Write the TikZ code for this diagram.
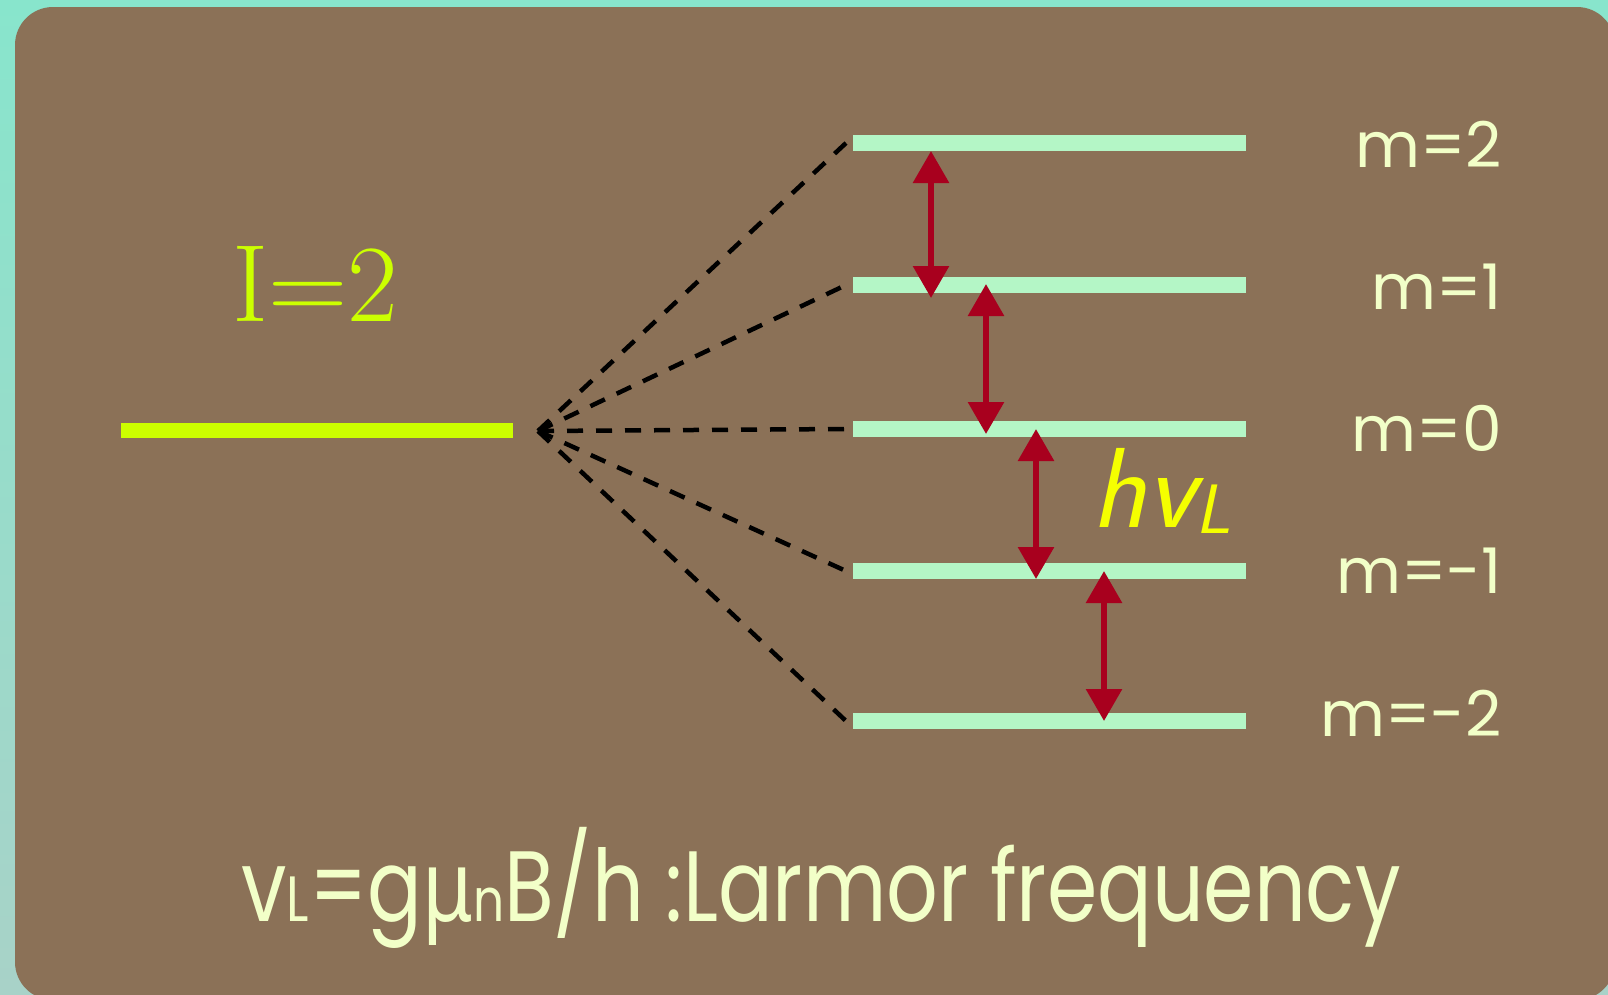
\documentclass[tikz,border=0pt]{standalone}
\usepackage{fontspec}
\usetikzlibrary{arrows.meta}
\newfontfamily\popfont{Poppins}
\newfontfamily\grkfont{Noto Sans}
\definecolor{teal1}{RGB}{136,229,204}
\definecolor{teal2}{RGB}{168,210,200}
\definecolor{cardbrown}{RGB}{139,113,87}
\definecolor{igreen}{RGB}{204,255,0}
\definecolor{levelgreen}{RGB}{180,246,198}
\definecolor{arrowred}{RGB}{168,0,30}
\definecolor{labelcream}{RGB}{242,255,200}
\definecolor{hvyellow}{RGB}{245,255,0}
\begin{document}
\begin{tikzpicture}[x=1pt,y=-1pt,
  level/.style={draw=levelgreen,line width=16pt},
  ilevel/.style={draw=igreen,line width=15pt},
  split/.style={draw=black,line width=4.5pt,dash pattern=on 16pt off 13pt},
  gap/.style={draw=arrowred,line width=6pt,{Triangle[length=32pt,width=35pt]}-{Triangle[length=32pt,width=35pt]}},
  mlabel/.style={font=\popfont\fontsize{63}{70}\selectfont,text=labelcream,anchor=base east,inner sep=0pt},
]
\useasboundingbox (0,0) rectangle (1608,994);
\shade[top color=teal1,bottom color=teal2] (0,0) rectangle (1608,994);
\fill[cardbrown,rounded corners=38pt] (15,7) rectangle (1615,1000);
% I level
\coordinate (Iw) at (121,430);
\coordinate (Ie) at (513,430);
\draw[ilevel] (Iw) -- (Ie);
\coordinate (apex) at (538,431);
% m levels
\foreach \n/\y in {p2/143,p1/285,z/429,m1/571,m2/721}{
  \coordinate (\n w) at (853,\y);
  \coordinate (\n e) at (1246,\y);
  \coordinate (\n d) at (846,\y);
  \draw[level] (\n w) -- (\n e);
}
\foreach \n in {p2,p1,z,m1,m2}{
  \draw[split] (apex) -- (\n d);
}
% arrows
\coordinate (a1t) at (931,151); \coordinate (a1b) at (931,298);
\coordinate (a2t) at (986,284); \coordinate (a2b) at (986,434);
\coordinate (a3t) at (1036,429); \coordinate (a3b) at (1036,579);
\coordinate (a4t) at (1104,571); \coordinate (a4b) at (1104,721);
\draw[gap] (a1t) -- (a1b);
\draw[gap] (a2t) -- (a2b);
\draw[gap] (a3t) -- (a3b);
\draw[gap] (a4t) -- (a4b);
% labels
\node[mlabel] (lp2) at (1502,167) {m=2};
\node[mlabel] (lp1) at (1502,309) {m=1};
\node[mlabel] (lz) at (1502,451) {m=0};
\node[mlabel] (lm1) at (1502,593) {m=-1};
\node[mlabel] (lm2) at (1502,736) {m=-2};
\node[anchor=base west,inner sep=0pt,text=igreen,font=\fontsize{110}{120}\selectfont] (Ilab) at (232,321) {I=2};
\node[anchor=base west,inner sep=0pt,text=hvyellow,font=\sffamily\itshape\fontsize{114}{120}\selectfont] (hv) at (1091,527) {hv\raisebox{-6pt}{\fontsize{70}{70}\selectfont L}};
\node[anchor=base west,inner sep=0pt,text=labelcream,font=\popfont\fontsize{100}{110}\selectfont] (larmor) at (241,921) {\scalebox{0.81}[1]{v{\fontsize{64}{64}\selectfont L}=g{\grkfont μ}{\fontsize{60}{60}\selectfont n}B/h :Larmor frequency}};
\end{tikzpicture}
\end{document}
